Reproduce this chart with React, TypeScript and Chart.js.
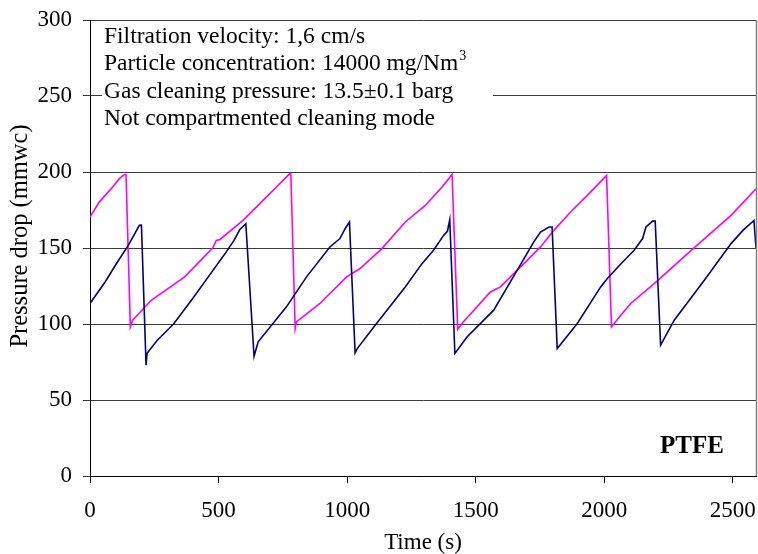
import React, { useEffect, useRef } from "react";
import { Chart, registerables } from "chart.js";

Chart.register(...registerables);

// Magenta series (time in s, pressure drop in mmwc)
const magentaTime = [
  0, 36, 88, 114, 134, 140, 157, 166, 238, 368, 478, 491, 504, 595, 673, 725, 777, 781,
  798, 803, 894, 998, 1050, 1135, 1226, 1304, 1369, 1408, 1430, 1450, 1557, 1596, 1687,
  1752, 1804, 1869, 1934, 2009, 2028, 2064, 2103, 2194, 2350, 2493, 2590,
];
const magentaValues = [
  170.4, 180.2, 190.1, 195.6, 198.4, 198.4, 98.1, 102.5, 115.6, 131, 150.2, 155, 155.5,
  168.2, 181.3, 190.1, 198.9, 198.9, 97, 101.4, 113.5, 131, 136.5, 149.6, 167.1, 178,
  190.1, 198.4, 96.6, 101, 121.1, 124.4, 139.7, 150.7, 161.6, 173.7, 184.6, 197.8, 98.1,
  105.8, 113.5, 126.6, 150.2, 171.5, 189,
];

// Navy series
const navyTime = [
  0, 60, 100, 150, 192, 200, 218, 222, 260, 325, 400, 460, 524, 560, 582, 606, 638, 654,
  764, 842, 933, 972, 992, 1009, 1031, 1040, 1109, 1206, 1226, 1291, 1336, 1375, 1390,
  1399, 1419, 1466, 1570, 1661, 1726, 1752, 1785, 1797, 1817, 1895, 1986, 2012, 2064,
  2116, 2149, 2162, 2188, 2198, 2219, 2272, 2389, 2493, 2539, 2582, 2590,
];
const navyValues = [
  113.5, 128, 139, 152, 164.9, 165, 72.9, 80.8, 89, 100, 117, 131, 146, 155, 162, 166,
  78.8, 88.3, 111.3, 131, 150.7, 156.2, 162.7, 167.1, 81, 84, 99.2, 120, 124.4, 139.7,
  148.5, 158.3, 161, 168.6, 80.6, 91.5, 109.1, 135.3, 154, 160.5, 163.8, 163.8, 83.9,
  100.3, 124.4, 130, 139.5, 148.5, 156.2, 163.8, 167.7, 167.7, 86.1, 102.5, 128.8, 152.9,
  161.6, 168.2, 150,
];

const xTicks = [0, 500, 1000, 1500, 2000, 2500];
const yTicks = [0, 50, 100, 150, 200, 250, 300];
const infoLines = [
  "Filtration velocity: 1,6 cm/s",
  "Particle concentration: 14000 mg/Nm",
  "Gas cleaning pressure: 13.5\u00b10.1 barg",
  "Not compartmented cleaning mode",
];
const infoSuperscript = "3";
const xTitle = "Time (s)";
const yTitle = "Pressure drop (mmwc)";
const tagLabel = "PTFE";

const FONT = "'Liberation Serif', 'Times New Roman', serif";

const overlayPlugin = {
  id: "overlay",
  beforeDatasetsDraw(chart: any) {
    const { ctx, chartArea } = chart;
    ctx.save();
    // white text box covering the grid
    ctx.fillStyle = "#ffffff";
    ctx.fillRect(chartArea.left + 12, chartArea.top + 2, 391, 128);
    ctx.fillStyle = "#000000";
    ctx.font = `23.5px ${FONT}`;
    ctx.textAlign = "left";
    ctx.textBaseline = "alphabetic";
    const x0 = chartArea.left + 14;
    const baselines = [43, 70, 98, 125];
    infoLines.forEach((line, i) => {
      ctx.fillText(line, x0, baselines[i]);
      if (i === 1) {
        const w = ctx.measureText(line).width;
        ctx.font = `14px ${FONT}`;
        ctx.fillText(infoSuperscript, x0 + w + 1, baselines[i] - 10);
        ctx.font = `23.5px ${FONT}`;
      }
    });
    ctx.restore();
  },
  afterDraw(chart: any) {
    const { ctx, chartArea } = chart;
    ctx.save();
    // right border
    ctx.strokeStyle = "#808080";
    ctx.lineWidth = 1.5;
    ctx.beginPath();
    ctx.moveTo(chartArea.right + 0.5, chartArea.top);
    ctx.lineTo(chartArea.right + 0.5, chartArea.bottom);
    ctx.stroke();
    // tag
    ctx.fillStyle = "#000000";
    ctx.font = `bold 25px ${FONT}`;
    ctx.textAlign = "left";
    ctx.textBaseline = "alphabetic";
    ctx.fillText(tagLabel, 660, 453);
    // y title
    ctx.font = `24.5px ${FONT}`;
    ctx.textAlign = "center";
    ctx.textBaseline = "middle";
    ctx.translate(21, 236);
    ctx.rotate(-Math.PI / 2);
    ctx.fillText(yTitle, 0, 0);
    ctx.restore();
  },
};

export default function App() {
  const canvasRef = useRef<HTMLCanvasElement | null>(null);

  useEffect(() => {
    if (!canvasRef.current) return;
    const chart = new Chart(canvasRef.current, {
      type: "line",
      data: {
        datasets: [
          {
            label: "Navy",
            data: navyTime.map((t, i) => ({ x: t, y: navyValues[i] })),
            borderColor: "#000080",
            borderWidth: 1.6,
            pointRadius: 0,
            tension: 0,
            fill: false,
          },
          {
            label: "Magenta",
            data: magentaTime.map((t, i) => ({ x: t, y: magentaValues[i] })),
            borderColor: "#ff00ff",
            borderWidth: 1.6,
            pointRadius: 0,
            tension: 0,
            fill: false,
          },
        ],
      },
      options: {
        animation: false,
        responsive: true,
        maintainAspectRatio: false,
        layout: { padding: { top: 20, right: 2, left: 0, bottom: 0 } },
        plugins: {
          legend: { display: false },
          tooltip: { enabled: false },
        },
        scales: {
          x: {
            type: "linear",
            min: 0,
            max: 2590,
            afterBuildTicks: (scale: any) => {
              scale.ticks = xTicks.map((v) => ({ value: v }));
            },
            afterFit: (scale: any) => {
              scale.height = 78;
              scale.paddingLeft = 0;
              scale.paddingRight = 0;
            },
            ticks: {
              color: "#000000",
              font: { family: FONT, size: 23 },
              padding: 14,
              maxRotation: 0,
              autoSkip: false,
              callback: (v: any) => String(v),
            },
            grid: {
              drawOnChartArea: false,
              drawTicks: true,
              tickLength: 7,
              color: "#000000",
            },
            border: { color: "#000000", width: 1 },
            title: {
              display: true,
              text: xTitle,
              color: "#000000",
              font: { family: FONT, size: 23, lineHeight: 1 },
              padding: { top: 0, bottom: 0 },
            },
          },
          y: {
            type: "linear",
            min: 0,
            max: 300,
            afterBuildTicks: (scale: any) => {
              scale.ticks = yTicks.map((v) => ({ value: v }));
            },
            afterFit: (scale: any) => {
              scale.width = 90;
              scale.paddingTop = 0;
              scale.paddingBottom = 0;
            },
            ticks: {
              color: "#000000",
              font: { family: FONT, size: 23 },
              padding: 11,
              callback: (v: any) => String(v),
            },
            grid: {
              drawOnChartArea: true,
              drawTicks: true,
              tickLength: 7,
              color: "#3a3a3a",
              lineWidth: 1,
            },
            border: { color: "#000000", width: 1 },
          },
        },
      },
      plugins: [overlayPlugin],
    });
    return () => chart.destroy();
  }, []);

  return (
    <div style={{ position: "absolute", left: 0, top: 0, width: 758, height: 554, background: "#ffffff" }}>
      <canvas ref={canvasRef} />
    </div>
  );
}
